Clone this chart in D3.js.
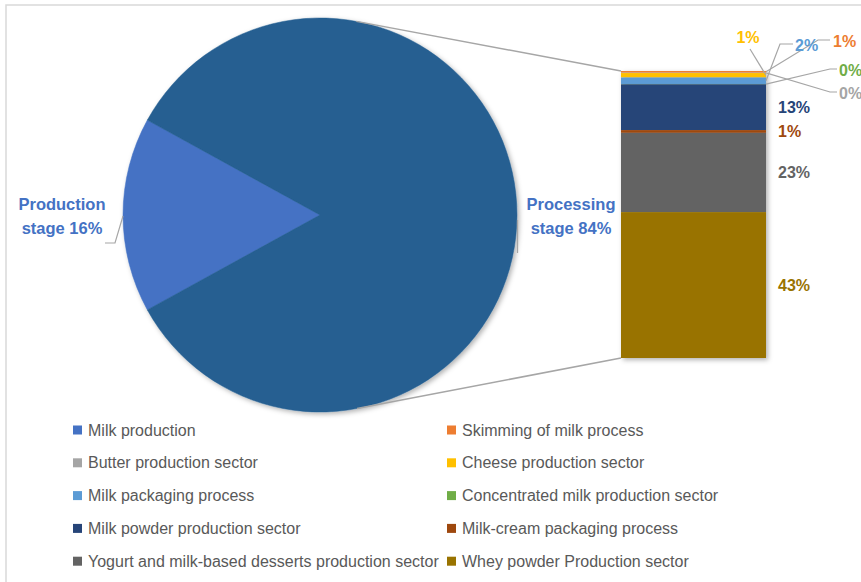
<!DOCTYPE html>
<html><head><meta charset="utf-8">
<script src="https://cdn.jsdelivr.net/npm/d3@7"></script>
<style>body{margin:0;background:#fff}svg{display:block}</style>
</head><body>
<svg id="c" width="861" height="582"></svg>
<script>
// ---- data ----
const categories = ["Milk production","Skimming of milk process","Butter production sector","Cheese production sector","Milk packaging process","Concentrated milk production sector","Milk powder production sector","Milk-cream packaging process","Yogurt and milk-based desserts production sector","Whey powder Production sector"];
const values = [16.0, 0.5, 0.1, 1.3, 1.9, 0.1, 13.4, 0.8, 23.2, 42.7];
const colors = ["#4472C4","#ED7D31","#A5A5A5","#FFC000","#5B9BD5","#70AD47","#264478","#9E480E","#636363","#997300"];
const pieNames = ["Production stage","Processing stage"];
const pieColors = ["#4472C4","#255E91"];

const svg = d3.select("#c");
const font = "'Liberation Sans', Arial, sans-serif";

// border
svg.append("rect").attr("x",6).attr("y",5).attr("width",1000).attr("height",1000)
  .attr("fill","none").attr("stroke","#d9d9d9").attr("stroke-width",1.5);

const defs = svg.append("defs");
const f = defs.append("filter").attr("id","sh").attr("x","-20%").attr("y","-20%").attr("width","140%").attr("height","140%");
f.append("feDropShadow").attr("dx",2).attr("dy",2).attr("stdDeviation",2.5).attr("flood-color","#000").attr("flood-opacity",0.3);

// ---- pie ----
const cx = 320, cy = 215, R = 197;
const prodShare = values[0], procShare = d3.sum(values.slice(1));
const total = prodShare + procShare;
const a0 = 1.5*Math.PI - Math.PI*prodShare/total;
const pie = d3.pie().sort(null).startAngle(a0).endAngle(a0 + 2*Math.PI);
const arcs = pie([prodShare, procShare]);
const arc = d3.arc().innerRadius(0).outerRadius(R);
const pg = svg.append("g").attr("transform",`translate(${cx},${cy})`).attr("filter","url(#sh)");
pg.selectAll("path").data(arcs).join("path").attr("d",arc)
  .attr("fill",(d,i)=>pieColors[i]).attr("stroke",(d,i)=>pieColors[i]).attr("stroke-width",0.5);

// ---- bar ----
const barX = 621, barW = 145;
const y = d3.scaleLinear().domain([0, procShare]).range([71, 358]);
const barData = [];
let acc = 0;
for (let i=1;i<values.length;i++){ barData.push({i, v:values[i], y0:acc, y1:acc+values[i]}); acc += values[i]; }
const bg = svg.append("g").attr("filter","url(#sh)");
bg.selectAll("rect.seg").data(barData).join("rect").attr("class","seg")
  .attr("x",barX).attr("width",barW)
  .attr("y",d=>y(d.y0)).attr("height",d=>y(d.y1)-y(d.y0))
  .attr("fill",d=>colors[d.i]);

// ---- connector lines (tangent to pie) ----
function tangent(px,py,sign){
  const dx=px-cx, dy=py-cy, d=Math.hypot(dx,dy);
  const phi=Math.atan2(dy,dx), t=Math.acos(R/d);
  const a=phi+sign*t;
  return [cx+R*Math.cos(a), cy+R*Math.sin(a)];
}
const tTop = tangent(barX, y(0), -1);
const tBot = tangent(barX, y(procShare), 1);
svg.append("line").attr("x1",tTop[0]).attr("y1",tTop[1]).attr("x2",barX).attr("y2",y(0))
  .attr("stroke","#a6a6a6").attr("stroke-width",1.5);
svg.append("line").attr("x1",tBot[0]).attr("y1",tBot[1]).attr("x2",barX).attr("y2",y(procShare))
  .attr("stroke","#a6a6a6").attr("stroke-width",1.5);

// ---- pie labels ----
const pct = v => Math.round(v) + "%";
function twoLine(x, yy, l1, l2, col){
  const t = svg.append("text").attr("x",x).attr("y",yy).attr("text-anchor","middle")
    .attr("font-family",font).attr("font-weight","bold").attr("font-size",16.5).attr("fill",col);
  t.append("tspan").attr("x",x).attr("dy",0).text(l1);
  t.append("tspan").attr("x",x).attr("dy",24).text(l2);
}
twoLine(62, 210, "Production", "stage " + pct(prodShare/total*100), pieColors[0]);
twoLine(571, 210, "Processing", "stage " + pct(procShare/total*100), pieColors[0]);
svg.append("polyline").attr("points",[[105,243],[115,243],[123,216]].join(" "))
  .attr("fill","none").attr("stroke","#a6a6a6").attr("stroke-width",1.2);
svg.append("line").attr("x1",517.5).attr("y1",220).attr("x2",517.5).attr("y2",253)
  .attr("stroke","#a6a6a6").attr("stroke-width",1.2);

// ---- bar labels ----
const lx = barX + barW;
const labelPlace = {
  1: {x:833, y:41, anchor:"start", bend:[[818,40],[830,40]]},
  2: {x:839, y:93, anchor:"start", bend:[[830,92],[837,92]]},
  3: {x:748, y:37, anchor:"middle", bend:[[750,49]]},
  4: {x:795, y:45, anchor:"start", bend:[[780,44],[793,44]]},
  5: {x:839, y:70, anchor:"start", bend:[[830,69],[837,69]]}
};
const lg = svg.append("g");
barData.forEach(d=>{
  const mid = (y(d.y0)+y(d.y1))/2;
  const p = labelPlace[d.i];
  let tx, ty, anchor;
  if (p){
    tx=p.x; ty=p.y; anchor=p.anchor;
    lg.append("polyline").attr("points",[[lx,mid]].concat(p.bend).join(" "))
      .attr("fill","none").attr("stroke","#a6a6a6").attr("stroke-width",1.2);
  } else { tx = lx + 12; ty = mid; anchor="start"; }
  lg.append("text").attr("x",tx).attr("y",ty).attr("dy","0.35em").attr("text-anchor",anchor)
    .attr("font-family",font).attr("font-weight","bold").attr("font-size",16)
    .attr("fill",colors[d.i]).text(pct(d.v));
});

// ---- legend ----
const legX = [73, 447], legY0 = 430, legDY = 32.8;
const leg = svg.append("g");
categories.forEach((c,i)=>{
  const col = i%2, row = Math.floor(i/2);
  const gx = legX[col], gy = legY0 + row*legDY;
  leg.append("rect").attr("x",gx).attr("y",gy-4.5).attr("width",9).attr("height",9).attr("fill",colors[i]);
  leg.append("text").attr("x",gx+15).attr("y",gy).attr("dy","0.35em")
    .attr("font-family",font).attr("font-size",16).attr("fill","#595959").text(c);
});
</script>
</body></html>
